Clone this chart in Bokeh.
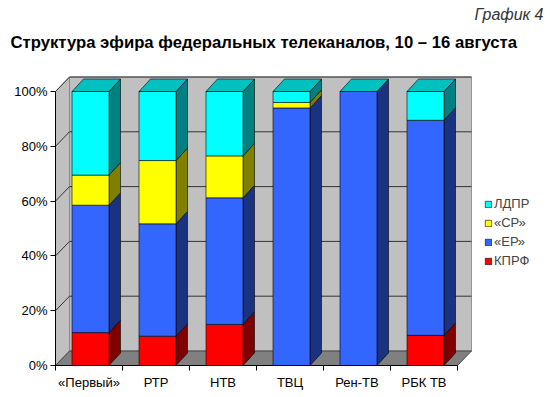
from bokeh.plotting import figure
from bokeh.models import Range1d, FixedTicker, Legend, LegendItem, Title, ColumnDataSource
from bokeh.embed import file_html
from bokeh.resources import INLINE

# ---------------- data ----------------
categories = ["«Первый»", "РТР", "НТВ", "ТВЦ", "Рен-ТВ", "РБК ТВ"]
series_names = ["КПРФ", "«ЕР»", "«СР»", "ЛДПР"]
kprf = [12.0, 10.7, 15.0, 0.0, 0.0, 11.0]
er = [46.5, 41.0, 46.2, 94.0, 100.0, 78.5]
sr = [11.0, 23.1, 15.3, 2.0, 0.0, 0.0]
ldpr = [30.5, 25.2, 23.5, 4.0, 0.0, 10.5]
y_ticks = [0, 20, 40, 60, 80, 100]
y_tick_labels = ["0%", "20%", "40%", "60%", "80%", "100%"]

# ---------------- style ----------------
front_colors = ["#FF0000", "#3366FF", "#FFFF00", "#00FFFF"]
side_colors = ["#800000", "#1A3380", "#808000", "#008080"]
top_color = "#00C0C0"
FONT = "Liberation Sans"

W, H = 550, 397
ML, MT, MB = 55, 70, 32
BAND_PX = 67.0
PCT_PX = 2.74
frame_w = W - ML
frame_h = H - MT - MB
x_end = frame_w / BAND_PX
y_end = frame_h / PCT_PX

WDX, WDY = 14.0 / BAND_PX, 14.5 / PCT_PX     # wall depth
BDX, BDY = 11.5 / BAND_PX, 12.5 / PCT_PX     # bar depth
BAR_W = 37.0 / BAND_PX
SHIFT = 1.5 / BAND_PX
n = len(categories)

p = figure(width=W, height=H, output_backend="svg", toolbar_location=None, title=None,
           x_range=Range1d(0, x_end), y_range=Range1d(0, y_end),
           min_border_left=ML, min_border_right=0, min_border_top=MT, min_border_bottom=MB)
p.outline_line_color = None
p.xgrid.visible = False
p.ygrid.visible = False
p.background_fill_color = "white"
p.border_fill_color = "white"

# walls & floor
p.patch([0, WDX, WDX, 0], [0, WDY, 100 + WDY, 100], fill_color="#C0C0C0", line_color="#808080", line_width=0.8)
p.quad(left=[WDX], right=[n + WDX], bottom=[WDY], top=[100 + WDY], fill_color="#C0C0C0",
       line_color="#808080", line_width=0.8)
gx, gy = [], []
for v in y_ticks[1:]:
    gx.append([0, WDX, n + WDX])
    gy.append([v, v + WDY, v + WDY])
p.multi_line(gx, gy, line_color="#333333", line_width=1)
p.patch([0, n, n + WDX, WDX], [0, 0, WDY, WDY], fill_color="#808080", line_color="#333333", line_width=0.8)

# bars
xc = [i + 0.5 + SHIFT for i in range(n)]
series = [kprf, er, sr, ldpr]
bottoms = [0.0] * n
renderers = []
for s_idx, vals in enumerate(series):
    tops = [b + v for b, v in zip(bottoms, vals)]
    xs, ys = [], []
    fx, fb, ft = [], [], []
    for i in range(n):
        if vals[i] <= 0:
            continue
        x0 = xc[i] + BAR_W / 2
        xs.append([x0, x0 + BDX, x0 + BDX, x0])
        ys.append([bottoms[i], bottoms[i] + BDY, tops[i] + BDY, tops[i]])
        fx.append(xc[i]); fb.append(bottoms[i]); ft.append(tops[i])
    if xs:
        p.patches(xs, ys, fill_color=side_colors[s_idx], line_color="black", line_width=0.6)
    src = ColumnDataSource(dict(x=fx, bottom=fb, top=ft))
    r = p.vbar(x="x", bottom="bottom", top="top", width=BAR_W, source=src,
               fill_color=front_colors[s_idx], line_color="black", line_width=0.6)
    renderers.append(r)
    bottoms = tops

# top faces
txs, tys = [], []
for i in range(n):
    xl, xr, t = xc[i] - BAR_W / 2, xc[i] + BAR_W / 2, bottoms[i]
    txs.append([xl, xr, xr + BDX, xl + BDX])
    tys.append([t, t, t + BDY, t + BDY])
p.patches(txs, tys, fill_color=top_color, line_color="black", line_width=0.6)

# axes
ya = p.yaxis[0]
ya.ticker = FixedTicker(ticks=y_ticks)
ya.major_label_overrides = {t: l for t, l in zip(y_ticks, y_tick_labels)}
ya.bounds = (0, 100)
ya.major_tick_out = 5
ya.major_tick_in = 0
ya.minor_tick_line_color = None
ya.major_label_standoff = 3
ya.major_label_text_font = FONT
ya.major_label_text_font_size = "13px"
ya.major_label_text_color = "black"
ya.axis_line_color = "black"

xa = p.xaxis[0]
xa.ticker = FixedTicker(ticks=[i + 0.5 for i in range(n)], minor_ticks=list(range(n + 1)))
xa.major_label_overrides = {i + 0.5: c for i, c in enumerate(categories)}
xa.bounds = (0, n)
xa.major_tick_line_color = None
xa.minor_tick_out = 5
xa.minor_tick_in = 0
xa.minor_tick_line_color = "black"
xa.major_label_standoff = 3
xa.major_label_text_font = FONT
xa.major_label_text_font_size = "13px"
xa.major_label_text_color = "black"
xa.axis_line_color = "black"

# legend
items = [LegendItem(label=series_names[k], renderers=[renderers[k]]) for k in [3, 2, 1, 0]]
legend = Legend(items=items, location=(429, 97), padding=0, margin=0, spacing=4,
                label_height=14, glyph_width=8, glyph_height=8, label_standoff=2,
                label_text_font=FONT, label_text_font_size="13px",
                border_line_color=None, background_fill_alpha=0)
p.add_layout(legend, "center")

# titles
p.add_layout(Title(text="Структура эфира федеральных телеканалов, 10 – 16 августа",
                   text_font=FONT, text_font_size="16.7px", text_font_style="bold",
                   align="left", offset=-45, standoff=37, text_color="black"), "above")
p.add_layout(Title(text="График 4", text_font=FONT, text_font_size="16px", text_font_style="italic",
                   align="right", offset=7, standoff=-21, text_color="#333333"), "above")

open("out.html", "w").write(file_html(p, INLINE))
